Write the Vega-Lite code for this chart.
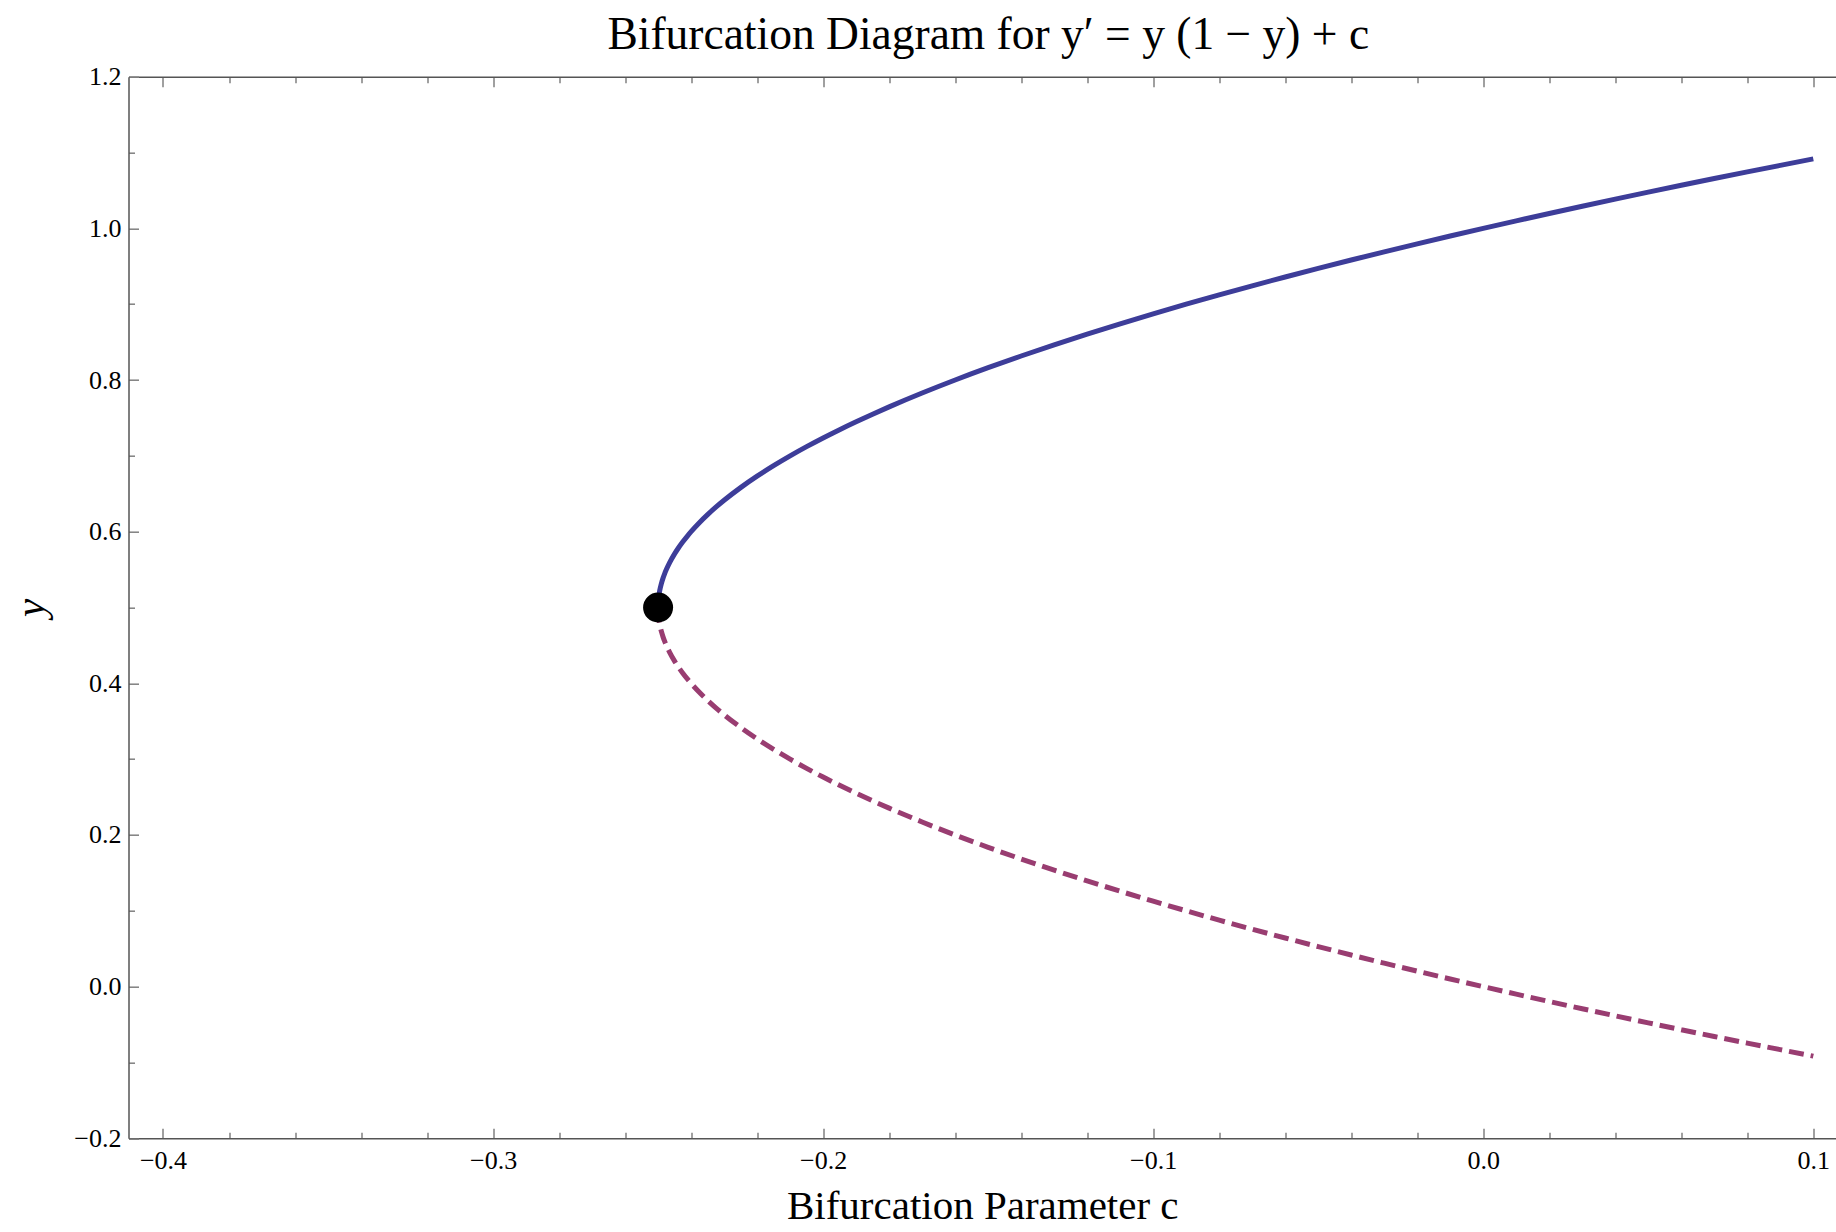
{
  "$schema": "https://vega.github.io/schema/vega-lite/v6.json",
  "width": 1707.5,
  "height": 1061.6,
  "autosize": "none",
  "padding": {"left": 128.5, "top": 76.7, "right": 0, "bottom": 93.7},
  "background": "white",
  "config": {"view": {"stroke": null}},
  "title": {
    "text": "Bifurcation Diagram for y′ = y (1 − y) + c",
    "font": "Liberation Serif",
    "fontSize": 45.5,
    "fontWeight": "normal",
    "color": "black",
    "anchor": "middle",
    "frame": "group",
    "baseline": "alphabetic",
    "offset": 25,
    "dy": 56,
    "dx": 6
  },
  "datasets": {
    "upper": [
      {"c": -0.25, "y": 0.5}, {"c": -0.2499, "y": 0.51}, {"c": -0.24975, "y": 0.51581}, {"c": -0.2495, "y": 0.52236}, {"c": -0.249, "y": 0.53162},
      {"c": -0.2485, "y": 0.53873}, {"c": -0.248, "y": 0.54472}, {"c": -0.2475, "y": 0.55}, {"c": -0.2465, "y": 0.55916}, {"c": -0.245, "y": 0.57071},
      {"c": -0.244, "y": 0.57746}, {"c": -0.2425, "y": 0.5866}, {"c": -0.241, "y": 0.59487},
      {"c": -0.24, "y": 0.6}, {"c": -0.2375, "y": 0.6118}, {"c": -0.235, "y": 0.62247}, {"c": -0.2325, "y": 0.63229}, {"c": -0.23, "y": 0.64142},
      {"c": -0.225, "y": 0.65811}, {"c": -0.22, "y": 0.67321}, {"c": -0.215, "y": 0.68708},
      {"c": -0.21, "y": 0.7}, {"c": -0.205, "y": 0.71213}, {"c": -0.2, "y": 0.72361}, {"c": -0.195, "y": 0.73452}, {"c": -0.19, "y": 0.74495},
      {"c": -0.185, "y": 0.75495}, {"c": -0.18, "y": 0.76458},
      {"c": -0.17, "y": 0.78284}, {"c": -0.16, "y": 0.8}, {"c": -0.15, "y": 0.81623}, {"c": -0.14, "y": 0.83166},
      {"c": -0.13, "y": 0.84641}, {"c": -0.12, "y": 0.86056}, {"c": -0.11, "y": 0.87417}, {"c": -0.1, "y": 0.8873},
      {"c": -0.09, "y": 0.9}, {"c": -0.08, "y": 0.91231}, {"c": -0.07, "y": 0.92426}, {"c": -0.06, "y": 0.93589},
      {"c": -0.05, "y": 0.94721}, {"c": -0.04, "y": 0.95826}, {"c": -0.03, "y": 0.96904}, {"c": -0.02, "y": 0.97958},
      {"c": -0.01, "y": 0.9899}, {"c": 0, "y": 1}, {"c": 0.01, "y": 1.0099}, {"c": 0.02, "y": 1.01962},
      {"c": 0.03, "y": 1.02915}, {"c": 0.04, "y": 1.03852}, {"c": 0.05, "y": 1.04772}, {"c": 0.06, "y": 1.05678},
      {"c": 0.07, "y": 1.06569}, {"c": 0.08, "y": 1.07446}, {"c": 0.09, "y": 1.0831}, {"c": 0.1, "y": 1.09161}
    ],
    "lower": [
      {"c": -0.25, "y": 0.5}, {"c": -0.2499, "y": 0.49}, {"c": -0.24975, "y": 0.48419}, {"c": -0.2495, "y": 0.47764}, {"c": -0.249, "y": 0.46838},
      {"c": -0.2485, "y": 0.46127}, {"c": -0.248, "y": 0.45528}, {"c": -0.2475, "y": 0.45}, {"c": -0.2465, "y": 0.44084}, {"c": -0.245, "y": 0.42929},
      {"c": -0.244, "y": 0.42254}, {"c": -0.2425, "y": 0.4134}, {"c": -0.241, "y": 0.40513},
      {"c": -0.24, "y": 0.4}, {"c": -0.2375, "y": 0.3882}, {"c": -0.235, "y": 0.37753}, {"c": -0.2325, "y": 0.36771}, {"c": -0.23, "y": 0.35858},
      {"c": -0.225, "y": 0.34189}, {"c": -0.22, "y": 0.32679}, {"c": -0.215, "y": 0.31292},
      {"c": -0.21, "y": 0.3}, {"c": -0.205, "y": 0.28787}, {"c": -0.2, "y": 0.27639}, {"c": -0.195, "y": 0.26548}, {"c": -0.19, "y": 0.25505},
      {"c": -0.185, "y": 0.24505}, {"c": -0.18, "y": 0.23542},
      {"c": -0.17, "y": 0.21716}, {"c": -0.16, "y": 0.2}, {"c": -0.15, "y": 0.18377}, {"c": -0.14, "y": 0.16834},
      {"c": -0.13, "y": 0.15359}, {"c": -0.12, "y": 0.13944}, {"c": -0.11, "y": 0.12583}, {"c": -0.1, "y": 0.1127},
      {"c": -0.09, "y": 0.1}, {"c": -0.08, "y": 0.08769}, {"c": -0.07, "y": 0.07574}, {"c": -0.06, "y": 0.06411},
      {"c": -0.05, "y": 0.05279}, {"c": -0.04, "y": 0.04174}, {"c": -0.03, "y": 0.03096}, {"c": -0.02, "y": 0.02042},
      {"c": -0.01, "y": 0.0101}, {"c": 0, "y": 0}, {"c": 0.01, "y": -0.0099}, {"c": 0.02, "y": -0.01962},
      {"c": 0.03, "y": -0.02915}, {"c": 0.04, "y": -0.03852}, {"c": 0.05, "y": -0.04772}, {"c": 0.06, "y": -0.05678},
      {"c": 0.07, "y": -0.06569}, {"c": 0.08, "y": -0.07446}, {"c": 0.09, "y": -0.0831}, {"c": 0.1, "y": -0.09161}
    ],
    "point": [{"c": -0.25, "y": 0.5}]
  },
  "layer": [
    {
      "data": {"name": "upper"},
      "mark": {"type": "line", "color": "#3D3D99", "strokeWidth": 5, "strokeCap": "butt", "interpolate": "monotone"},
      "encoding": {
        "x": {
          "field": "c", "type": "quantitative",
          "scale": {"domain": [-0.41045, 0.10688], "nice": false, "zero": false},
          "axis": {
            "orient": "bottom",
            "values": [-0.4, -0.38, -0.36, -0.34, -0.32, -0.3, -0.28, -0.26, -0.24, -0.22, -0.2, -0.18, -0.16, -0.14, -0.12, -0.1, -0.08, -0.06, -0.04, -0.02, 0, 0.02, 0.04, 0.06, 0.08, 0.1],
            "labelExpr": "abs(datum.value*10 - round(datum.value*10)) < 0.001 ? format(datum.value, '.1f') : ''",
            "tickSize": {"condition": {"test": "abs(datum.value*10 - round(datum.value*10)) < 0.001", "value": -10}, "value": -6},
            "tickColor": "#808080", "tickWidth": 1.5,
            "domainColor": "#555555", "domainWidth": 1.5,
            "grid": false, "labelFlush": false, "labelOverlap": false,
            "labelFont": "Liberation Serif", "labelFontSize": 26, "labelColor": "black",
            "labelPadding": 19,
            "title": "Bifurcation Parameter c",
            "titleFont": "Liberation Serif", "titleFontSize": 41, "titleFontWeight": "normal", "titleColor": "black",
            "titlePadding": 9
          }
        },
        "y": {
          "field": "y", "type": "quantitative",
          "scale": {"domain": [-0.2, 1.2], "nice": false, "zero": false},
          "axis": {
            "orient": "left",
            "values": [-0.2, -0.15, -0.1, -0.05, 0, 0.05, 0.1, 0.15, 0.2, 0.25, 0.3, 0.35, 0.4, 0.45, 0.5, 0.55, 0.6, 0.65, 0.7, 0.75, 0.8, 0.85, 0.9, 0.95, 1, 1.05, 1.1, 1.15, 1.2],
            "labelExpr": "abs(datum.value*5 - round(datum.value*5)) < 0.001 ? format(datum.value, '.1f') : ''",
            "tickSize": {"condition": {"test": "abs(datum.value*5 - round(datum.value*5)) < 0.001", "value": -10}, "value": -6},
            "tickColor": "#808080", "tickWidth": 1.5,
            "domainColor": "#555555", "domainWidth": 1.5,
            "grid": false, "labelFlush": false, "labelOverlap": false,
            "labelFont": "Liberation Serif", "labelFontSize": 26, "labelColor": "black",
            "labelPadding": 17.5,
            "title": "y",
            "titleFont": "Liberation Serif", "titleFontSize": 41, "titleFontWeight": "normal", "titleFontStyle": "italic", "titleColor": "black",
            "titlePadding": 21
          }
        }
      }
    },
    {
      "data": {"name": "lower"},
      "mark": {"type": "line", "color": "#993D71", "strokeWidth": 5, "strokeDash": [15, 7], "strokeCap": "butt", "interpolate": "monotone"},
      "encoding": {
        "x": {
          "field": "c", "type": "quantitative",
          "axis": {
            "orient": "top",
            "values": [-0.4, -0.38, -0.36, -0.34, -0.32, -0.3, -0.28, -0.26, -0.24, -0.22, -0.2, -0.18, -0.16, -0.14, -0.12, -0.1, -0.08, -0.06, -0.04, -0.02, 0, 0.02, 0.04, 0.06, 0.08, 0.1],
            "labels": false,
            "tickSize": {"condition": {"test": "abs(datum.value*10 - round(datum.value*10)) < 0.001", "value": -10}, "value": -6},
            "tickColor": "#808080", "tickWidth": 1.5,
            "domainColor": "#555555", "domainWidth": 1.5,
            "grid": false, "title": null
          }
        },
        "y": {"field": "y", "type": "quantitative"}
      }
    },
    {
      "data": {"name": "point"},
      "mark": {"type": "point", "filled": true, "color": "black", "size": 900, "opacity": 1},
      "encoding": {
        "x": {"field": "c", "type": "quantitative", "axis": null},
        "y": {"field": "y", "type": "quantitative"}
      }
    }
  ],
  "resolve": {"axis": {"x": "independent"}}
}
